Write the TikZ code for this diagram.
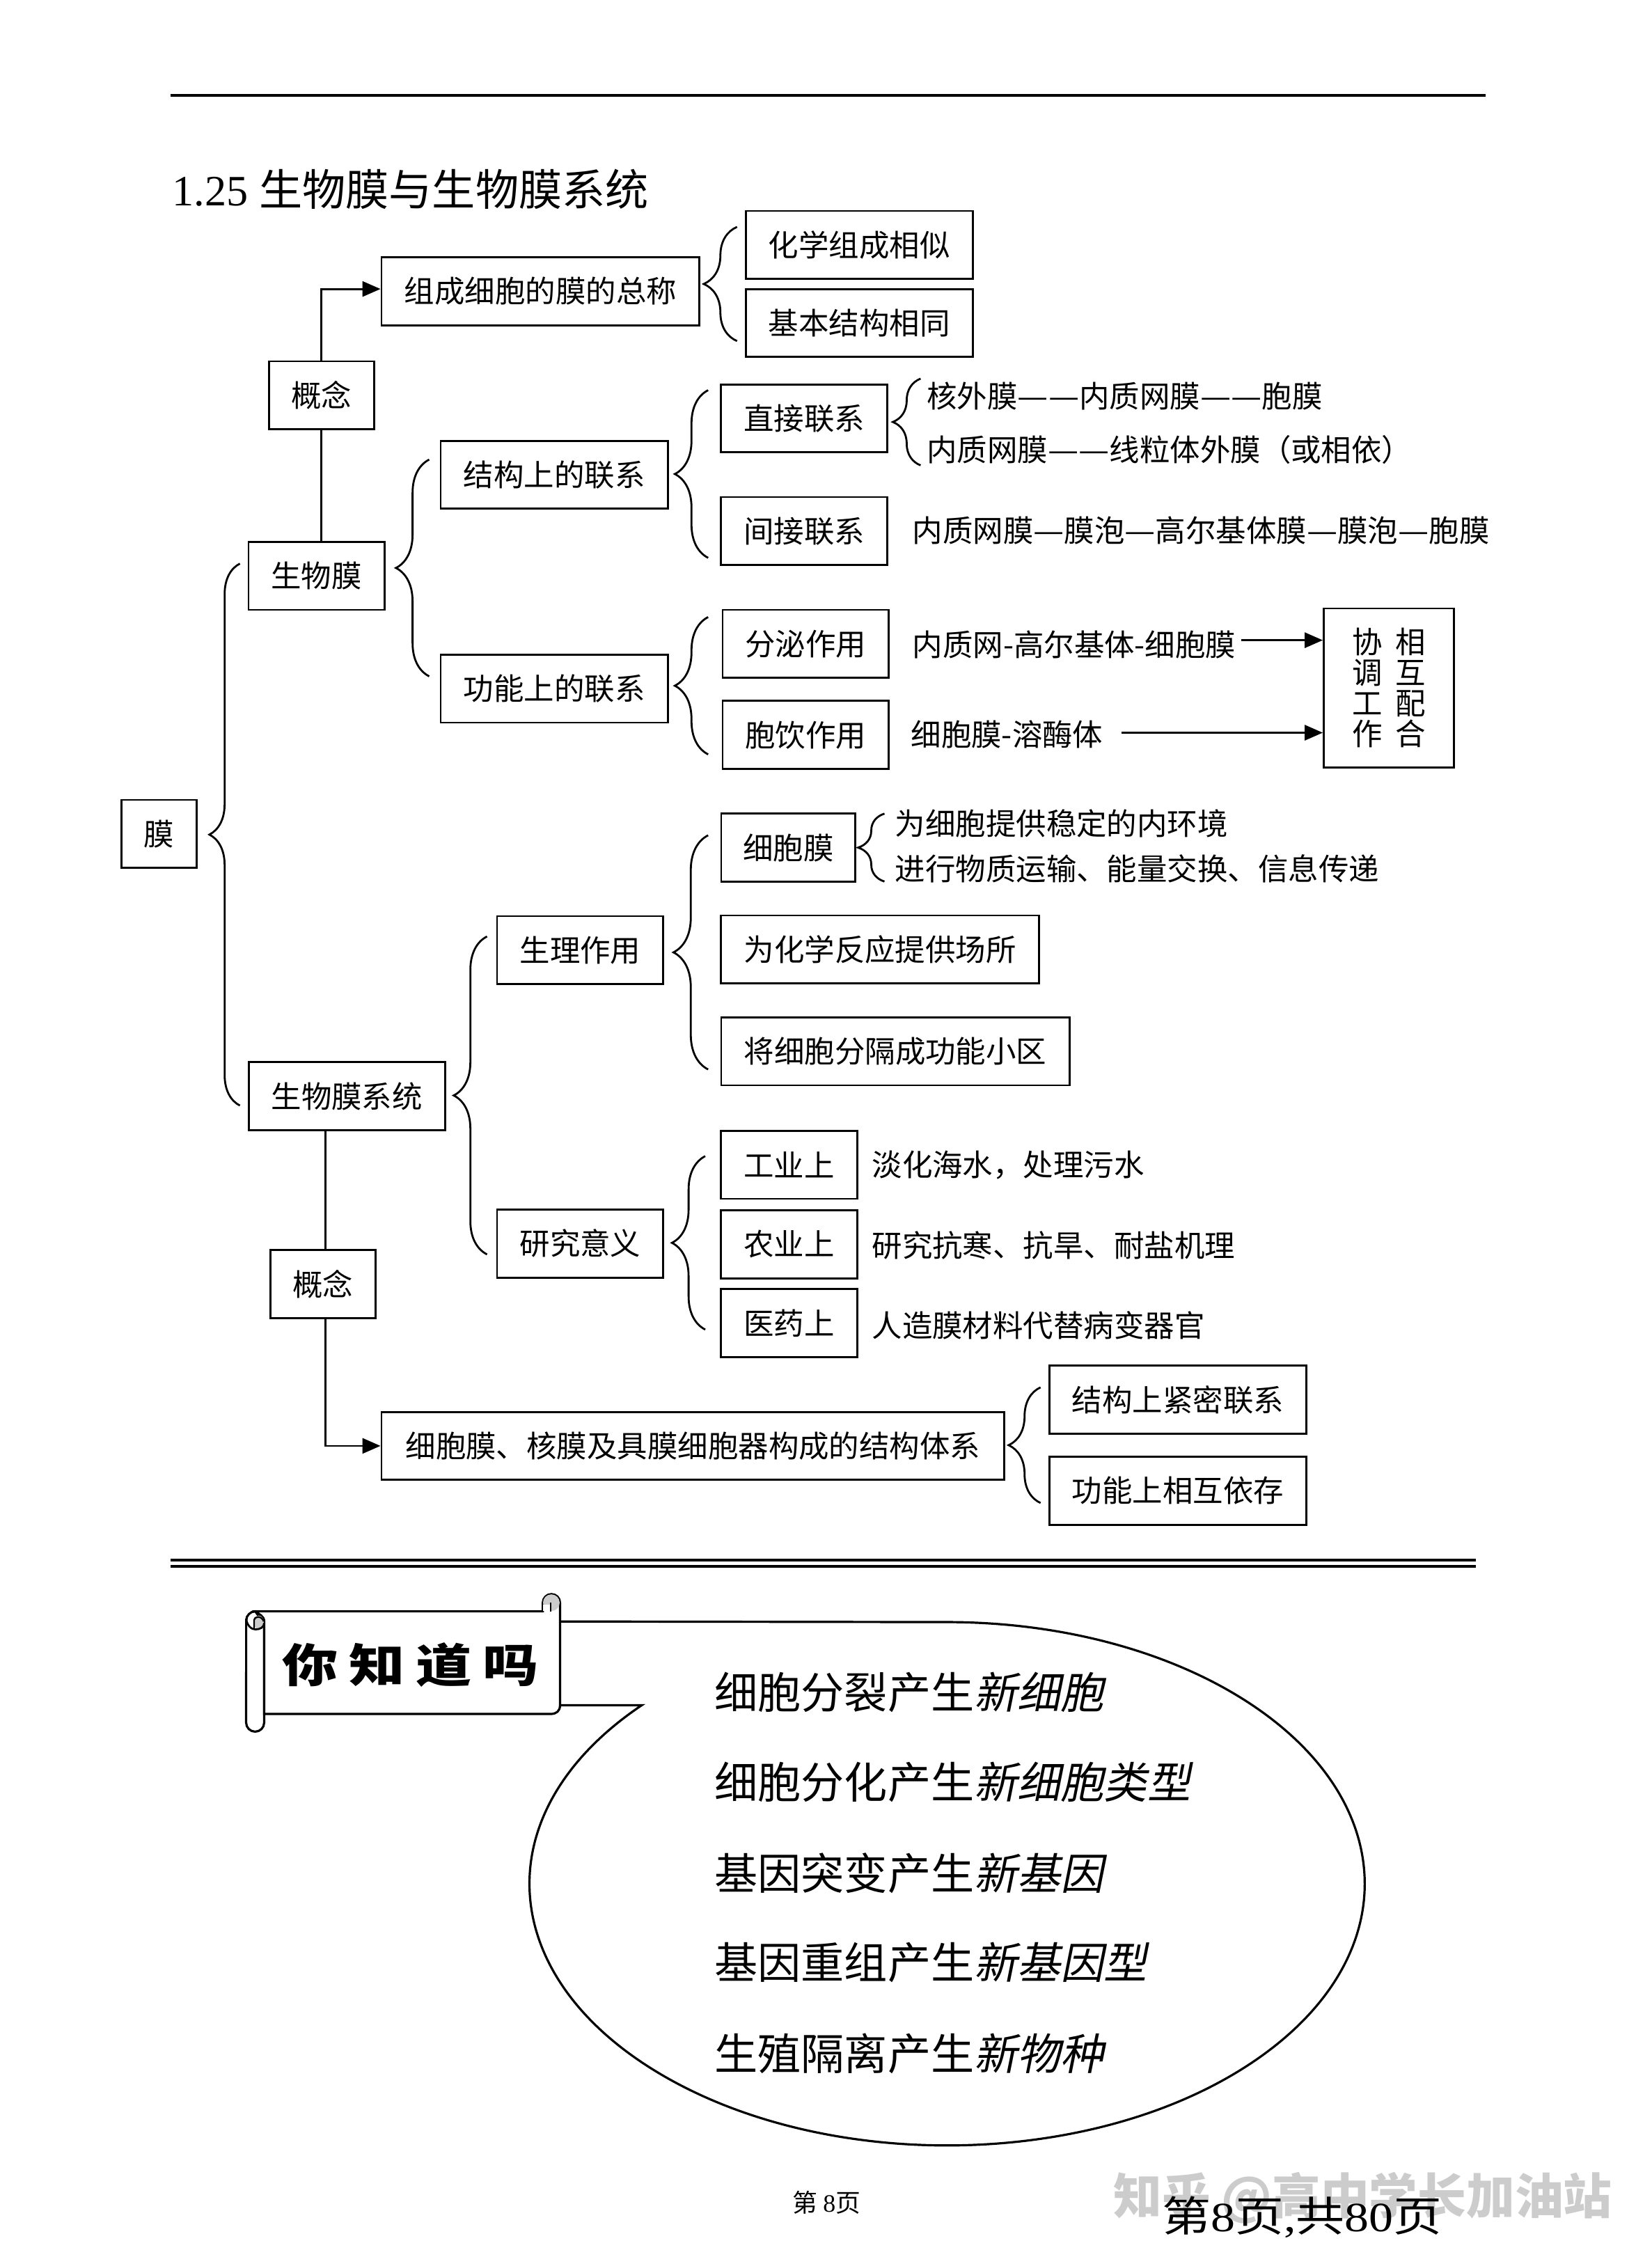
\documentclass[tikz,border=0pt]{standalone}
\usepackage{fontspec}
\setmainfont{Noto Sans CJK SC}
\newfontfamily\latfont{Liberation Serif}
\newfontfamily\slantfont[FakeSlant=0.2]{Noto Sans CJK SC}
\usetikzlibrary{arrows.meta,decorations.pathreplacing}
\newcommand{\longdash}{\scalebox{1.14}[1]{—}}

\tikzset{
  mbox/.style={draw, line width=0.7pt, minimum height=24.5pt, inner sep=0pt, align=center,
               font=\fontsize{10.9pt}{11pt}\selectfont},
  mtext/.style={anchor=west, inner sep=0pt, font=\fontsize{10.9pt}{11pt}\selectfont},
  bubbletext/.style={anchor=west, inner sep=0pt, font=\fontsize{15.6pt}{16pt}\selectfont},
  link/.style={line width=0.7pt},
  linkarrow/.style={line width=0.7pt, -{Triangle[length=6.5pt,width=5.5pt]}},
  mbrace/.style={line width=0.7pt, decorate, decoration={brace, amplitude=#1}},
  scrollline/.style={line width=0.8pt, fill=white}
}

\begin{document}
\begin{tikzpicture}[x=0.5208pt,y=-0.5208pt]
        \useasboundingbox (0,0) rectangle (1143.1,1568);

        \draw[line width=1.1pt] (118,66) -- (1028,66);
        \node[anchor=west, inner sep=0pt, font=\fontsize{15.6pt}{16pt}\selectfont] (title) at (119,131) {{\latfont 1.25 }生物膜与生物膜系统};

        % boxes
        \node[mbox, minimum width=27pt] (mo) at (110,577) {膜};
        \node[mbox, minimum width=49pt] (swm) at (219,398.5) {生物膜};
        \node[mbox, minimum width=38pt] (gn1) at (222.5,273.5) {概念};
        \node[mbox, minimum width=114.6pt] (zc) at (374,201.5) {组成细胞的膜的总称};
        \node[mbox, minimum width=81.8pt] (hx) at (594.5,169.5) {化学组成相似};
        \node[mbox, minimum width=81.8pt] (jb) at (594.5,223.5) {基本结构相同};
        \node[mbox, minimum width=81.8pt] (jg) at (383.5,328.5) {结构上的联系};
        \node[mbox, minimum width=59.9pt] (zj) at (556.5,289.5) {直接联系};
        \node[mbox, minimum width=59.9pt] (jj) at (556.5,367.5) {间接联系};
        \node[mbox, minimum width=81.8pt] (gn) at (383.5,476.5) {功能上的联系};
        \node[mbox, minimum width=59.9pt] (fm) at (557.5,445.5) {分泌作用};
        \node[mbox, minimum width=59.9pt] (by) at (557.5,508.5) {胞饮作用};
        \node[mbox, minimum width=46.9pt, minimum height=57.3pt] (xt) at (961,476) {协\hspace{4.7pt}相\\调\hspace{4.7pt}互\\工\hspace{4.7pt}配\\作\hspace{4.7pt}合};
        \node[mbox, minimum width=48.4pt] (xbm) at (545.5,586.5) {细胞膜};
        \node[mbox, minimum width=59.9pt] (sl) at (401.5,657.5) {生理作用};
        \node[mbox, minimum width=114.6pt] (wh) at (609,657) {为化学反应提供场所};
        \node[mbox, minimum width=125.5pt] (jx) at (619.5,727.5) {将细胞分隔成功能小区};
        \node[mbox, minimum width=70.8pt] (xt2) at (240,758.5) {生物膜系统};
        \node[mbox, minimum width=59.9pt] (yj) at (401.5,860.5) {研究意义};
        \node[mbox, minimum width=49pt] (gy) at (546,806) {工业上};
        \node[mbox, minimum width=49pt] (ny) at (546,861) {农业上};
        \node[mbox, minimum width=49pt] (yy) at (546,915.5) {医药上};
        \node[mbox, minimum width=38pt] (gn2) at (223.5,888.5) {概念};
        \node[mbox, minimum width=224.5pt] (tx) at (479.5,1000.5) {细胞膜、核膜及具膜细胞器构成的结构体系};
        \node[mbox, minimum width=92.7pt] (jm) at (815,968.5) {结构上紧密联系};
        \node[mbox, minimum width=92.7pt] (xh) at (815,1031.5) {功能上相互依存};

        % free text
        \node[mtext] (t1) at (641,274) {核外膜\longdash\longdash 内质网膜\longdash\longdash 胞膜};
        \node[mtext] (t2) at (641,311) {内质网膜\longdash\longdash 线粒体外膜（或相依）};
        \node[mtext] (t3) at (631,367) {内质网膜\longdash 膜泡\longdash 高尔基体膜\longdash 膜泡\longdash 胞膜};
        \node[mtext] (t4) at (631,446) {内质网-高尔基体-细胞膜};
        \node[mtext] (t5) at (630,508) {细胞膜-溶酶体};
        \node[mtext] (t6) at (619,570) {为细胞提供稳定的内环境};
        \node[mtext] (t7) at (619,601) {进行物质运输、能量交换、信息传递};
        \node[mtext] (t8) at (603,806) {淡化海水，处理污水};
        \node[mtext] (t9) at (603,862) {研究抗寒、抗旱、耐盐机理};
        \node[mtext] (t10) at (603,917) {人造膜材料代替病变器官};

        % connectors
        \draw[link] (gn1.south) -- (gn1.south |- swm.north);
        \draw[linkarrow] (gn1.north) |- ([yshift=0.8pt]zc.west);
        \draw[link] ([xshift=0.8pt]gn2.north) -- ([xshift=0.8pt]gn2.north |- xt2.south);
        \draw[linkarrow] ([xshift=0.8pt]gn2.south) |- (tx.west);
        \coordinate (a1) at (859,443);
        \coordinate (a2) at (776,507);
        \draw[linkarrow] (a1) -- (a1 -| xt.west);
        \draw[linkarrow] (a2) -- (a2 -| xt.west);

        % braces, bottom end to top end
        \coordinate (b1s) at (166,765);  \coordinate (b1e) at (166,390);
        \coordinate (b2s) at (297,468);  \coordinate (b2e) at (297,318);
        \coordinate (b3s) at (490,386);  \coordinate (b3e) at (490,270);
        \coordinate (b4s) at (510,236);  \coordinate (b4e) at (510,157);
        \coordinate (b5s) at (637,322);  \coordinate (b5e) at (637,262);
        \coordinate (b6s) at (490,522);  \coordinate (b6e) at (490,427);
        \coordinate (b7s) at (612,610);  \coordinate (b7e) at (612,563);
        \coordinate (b8s) at (490,740);  \coordinate (b8e) at (490,578);
        \coordinate (b9s) at (337,868);  \coordinate (b9e) at (337,648);
        \coordinate (b10s) at (488,920); \coordinate (b10e) at (488,800);
        \coordinate (b11s) at (720,1040);\coordinate (b11e) at (720,960);
        \draw[mbrace=11pt] (b1s) -- (b1e);
        \draw[mbrace=12pt] (b2s) -- (b2e);
        \draw[mbrace=12pt] (b3s) -- (b3e);
        \draw[mbrace=12pt] (b4s) -- (b4e);
        \draw[mbrace=10pt] (b5s) -- (b5e);
        \draw[mbrace=12pt] (b6s) -- (b6e);
        \draw[mbrace=9.5pt] (b7s) -- (b7e);
        \draw[mbrace=12.5pt] (b8s) -- (b8e);
        \draw[mbrace=12pt] (b9s) -- (b9e);
        \draw[mbrace=12pt] (b10s) -- (b10e);
        \draw[mbrace=11.5pt] (b11s) -- (b11e);

        % double rule
        \draw[line width=1.1pt] (118,1079.5) -- (1021,1079.5);
        \draw[line width=1.1pt] (118,1084) -- (1021,1084);

        % callout
        \draw[line width=0.8pt, fill=white] (444,1180) arc[start angle=137, end angle=450, x radius=150.5pt, y radius=94.3pt]
            -- (387,1122) -- (387,1180) -- cycle;

        % scroll
        \draw[scrollline] (176.7,1115) arc[start angle=90, end angle=180, radius=3.3pt]
            -- (170.3,1192) arc[start angle=180, end angle=360, radius=3.25pt] -- (182.8,1124) -- cycle;
        \draw[scrollline] (176.7,1115) -- (375.6,1115) -- (375.6,1109) arc[start angle=180, end angle=0, radius=3.1pt]
            -- (387.5,1180) .. controls (387.5,1184) and (385,1186) .. (381,1186) -- (182.8,1186) -- (182.8,1122)
            .. controls (182.8,1118) and (179,1117) .. (176.7,1115) -- cycle;
        \fill[gray!40] (381.5,1109) circle (3pt);
        \fill[white] (375.9,1110.5) rectangle (381,1114.6);
        \draw[line width=0.6pt] (381,1109) -- (381,1115);
        \fill[gray!40] (179,1122.5) ellipse (1.9pt and 2.4pt);
        \draw[line width=0.7pt] (170.3,1120) .. controls (171,1125) and (174,1127.5) .. (176.7,1127.5)
            .. controls (180,1127.5) and (182.8,1126) .. (182.8,1123);
        \draw[line width=0.6pt] (175.8,1127) -- (175.8,1121) .. controls (175.8,1118.5) and (181,1117.5) .. (182.5,1122);
        \node[inner sep=0pt, font=\bfseries\fontsize{16.5pt}{17pt}\selectfont] (zhi) at (284,1152) {\scalebox{1.22}[1]{你\hspace{3.2pt}知\hspace{3.2pt}道\hspace{3.2pt}吗}};

        \node[bubbletext] (l1) at (494,1171) {细胞分裂产生{\slantfont 新细胞}};
        \node[bubbletext] (l2) at (494,1233) {细胞分化产生{\slantfont 新细胞类型}};
        \node[bubbletext] (l3) at (494,1296) {基因突变产生{\slantfont 新基因}};
        \node[bubbletext] (l4) at (494,1358) {基因重组产生{\slantfont 新基因型}};
        \node[bubbletext] (l5) at (494,1421) {生殖隔离产生{\slantfont 新物种}};

        % footer
        \node[inner sep=0pt, font=\fontsize{9pt}{10pt}\selectfont] (pg) at (572,1524) {第 {\latfont 8}页};
        \node[anchor=west, inner sep=0pt, text=gray!40, font=\bfseries\fontsize{17.5pt}{18pt}\selectfont] (wm) at (770,1521) {知乎 @高中学长加油站};
        \node[inner sep=0pt, font=\fontsize{15pt}{16pt}\selectfont] (pgall) at (901,1534) {\scalebox{1.17}[1]{第{\latfont 8}页{\latfont ,}共{\latfont 80}页}};
    \end{tikzpicture}
\end{document}
